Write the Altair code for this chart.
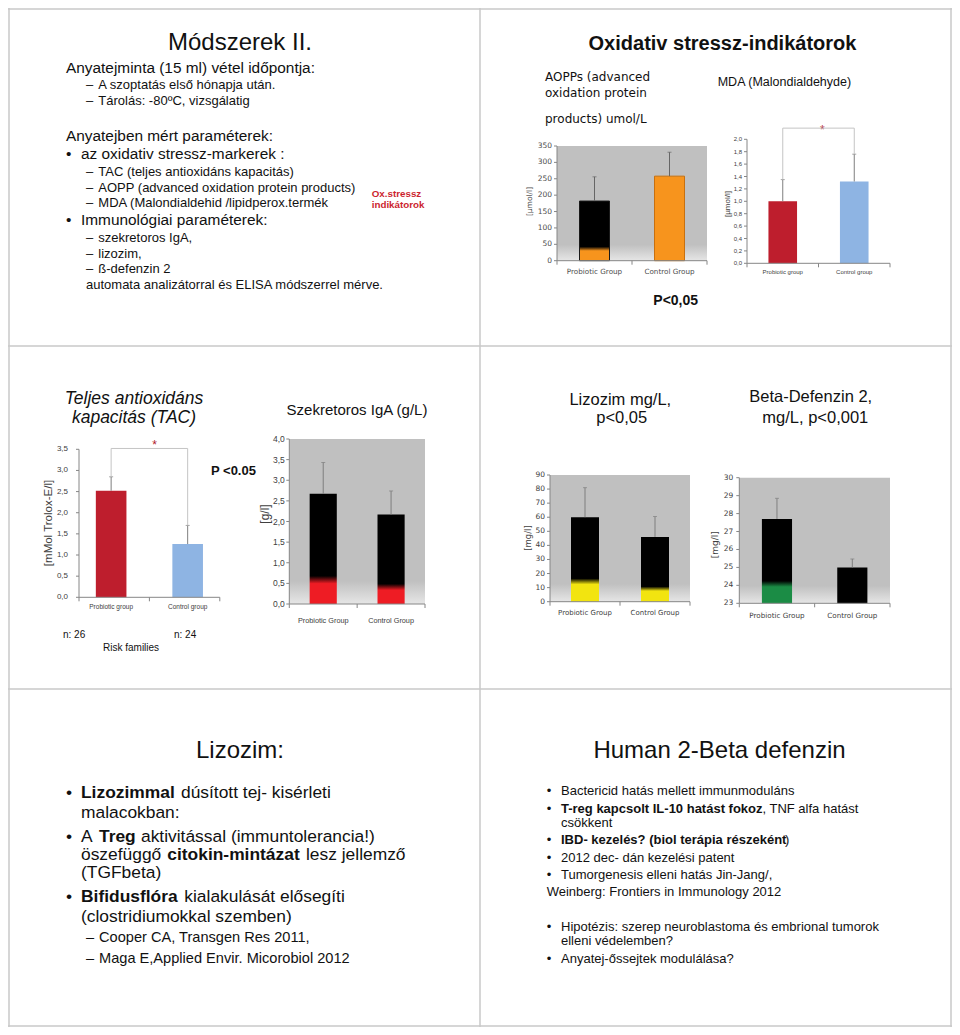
import altair as alt
import pandas as pd

W, H = 944, 1019
OX, OY = 8, 8


def X(p):
    return p - OX


def Y(p):
    return p - OY


ARIAL = "Liberation Sans, Arial, sans-serif"
VERDANA = "DejaVu Sans, Verdana, sans-serif"

# ---------------- data ----------------
GROUPS_CAP = ["Probiotic Group", "Control Group"]
GROUPS_LOW = ["Probiotic group", "Control group"]

AOPP_MEAN = [182, 258]
AOPP_SD = [74, 73]
AOPP_TICKS = [0, 50, 100, 150, 200, 250, 300, 350]

MDA_MEAN = [1.00, 1.32]
MDA_SD = [0.35, 0.44]
MDA_TICKS = [0.0, 0.2, 0.4, 0.6, 0.8, 1.0, 1.2, 1.4, 1.6, 1.8, 2.0]
MDA_BRACKET = 2.18

TAC_MEAN = [2.52, 1.26]
TAC_SD = [0.33, 0.44]
TAC_TICKS = [0.0, 0.5, 1.0, 1.5, 2.0, 2.5, 3.0, 3.5]
TAC_BRACKET = 3.52

IGA_MEAN = [2.67, 2.17]
IGA_SD = [0.76, 0.57]
IGA_TICKS = [0.0, 0.5, 1.0, 1.5, 2.0, 2.5, 3.0, 3.5, 4.0]

LIZ_MEAN = [60, 46]
LIZ_SD = [21, 14.5]
LIZ_TICKS = [0, 10, 20, 30, 40, 50, 60, 70, 80, 90]

DEF_MEAN = [27.7, 25.0]
DEF_SD = [1.15, 0.47]
DEF_TICKS = [23, 24, 25, 26, 27, 28, 29, 30]

ONE = pd.DataFrame({"k": [0]})


def tick_labels(ticks, comma):
    if comma:
        return [f"{t:.1f}".replace(".", ",") for t in ticks]
    return [str(int(t)) for t in ticks]


def grad(top, bottom, frac, w=0.035):
    return alt.Gradient(
        gradient="linear", x1=0, x2=0, y1=0, y2=1,
        stops=[alt.GradientStop(color=top, offset=0),
               alt.GradientStop(color=top, offset=max(frac - w, 0)),
               alt.GradientStop(color=bottom, offset=min(frac + w, 1)),
               alt.GradientStop(color=bottom, offset=1)])


BG_GRAD = grad("#c0c0c0", "#e6e6e6", 0.93, 0.07)


def bar_panel(groups, mean, sd, ticks, x0, x1, y0, y1, fills, strokes, *,
              po=0.3, bg=False, lab_font=ARIAL, lab_size=7, xlab_size=7,
              lab_color="#404040", comma=False, lab_gap=5, xlab_y=0,
              ytitle="", ytitle_font=ARIAL, ytitle_size=8, ytitle_x=0, ytitle_y=0,
              err_color="#7f7f7f", bracket=None, axis_color="#868686"):
    df = pd.DataFrame({"g": groups, "m": mean, "s": sd})
    tdf = pd.DataFrame({"v": ticks, "lab": tick_labels(ticks, comma)})
    lo, hi = ticks[0], ticks[-1]
    xs = alt.Scale(domain=groups, range=[X(x0), X(x1)], paddingInner=0.6, paddingOuter=po)
    ys = alt.Scale(domain=[lo, hi], range=[Y(y0), Y(y1)], nice=False, zero=False)
    gx = alt.X("g:N", scale=xs, axis=None)
    layers = []
    if bg:
        layers.append(alt.Chart(ONE).mark_rect(fill=BG_GRAD).encode(
            x=alt.value(X(x0)), x2=alt.value(X(x1)), y=alt.value(Y(y1)), y2=alt.value(Y(y0))))
    for i, g in enumerate(groups):
        layers.append(
            alt.Chart(df).transform_filter(alt.datum.g == g)
            .transform_calculate(base=f"{lo}")
            .mark_bar(fill=fills[i], stroke=strokes[i], strokeWidth=1 if strokes[i] else 0)
            .encode(x=gx, y=alt.Y("m:Q", scale=ys, axis=None), y2="base:Q"))
    layers.append(
        alt.Chart(df).transform_calculate(top="datum.m + datum.s")
        .mark_rule(color=err_color, strokeWidth=1)
        .encode(x=gx, y=alt.Y("m:Q", scale=ys, axis=None), y2="top:Q"))
    layers.append(
        alt.Chart(df).transform_calculate(top="datum.m + datum.s")
        .mark_tick(color=err_color, size=4, thickness=1)
        .encode(x=gx, y=alt.Y("top:Q", scale=ys, axis=None)))
    if bracket is not None:
        bdf = pd.DataFrame({
            "g": [groups[0], groups[0], groups[1], groups[1]],
            "v": [mean[0] + sd[0], bracket, bracket, mean[1] + sd[1]],
            "o": [0, 1, 2, 3]})
        layers.append(
            alt.Chart(bdf).mark_line(color="#c4c4c4", strokeWidth=1)
            .encode(x=alt.X("g:N", scale=xs, axis=None),
                    y=alt.Y("v:Q", scale=ys, axis=None), order="o:Q"))
    # ---- value axis (y) ----
    layers.append(alt.Chart(ONE).mark_rule(color=axis_color, strokeWidth=1).encode(
        x=alt.value(X(x0)), y=alt.value(Y(y1)), y2=alt.value(Y(y0))))
    layers.append(alt.Chart(tdf).mark_rule(color=axis_color, strokeWidth=1).encode(
        y=alt.Y("v:Q", scale=ys, axis=None), x=alt.value(X(x0) - 3), x2=alt.value(X(x0))))
    layers.append(alt.Chart(tdf).mark_text(
        align="right", baseline="middle", font=lab_font, fontSize=lab_size, color=lab_color
    ).encode(y=alt.Y("v:Q", scale=ys, axis=None), x=alt.value(X(x0) - lab_gap), text="lab:N"))
    layers.append(alt.Chart(ONE).mark_text(
        text=ytitle, angle=270, align="center", baseline="middle", font=ytitle_font,
        fontSize=ytitle_size, color=lab_color
    ).encode(x=alt.value(X(ytitle_x)), y=alt.value(Y(ytitle_y))))
    # ---- category axis (x) ----
    layers.append(alt.Chart(ONE).mark_rule(color=axis_color, strokeWidth=1).encode(
        x=alt.value(X(x0)), x2=alt.value(X(x1)), y=alt.value(Y(y0))))
    for tx in (x0, (x0 + x1) / 2, x1):
        layers.append(alt.Chart(ONE).mark_rule(color=axis_color, strokeWidth=1).encode(
            x=alt.value(X(tx)), y=alt.value(Y(y0)), y2=alt.value(Y(y0) + 4)))
    layers.append(alt.Chart(df).mark_text(
        align="center", baseline="middle", font=lab_font, fontSize=xlab_size, color=lab_color
    ).encode(x=gx, y=alt.value(Y(xlab_y)), text="g:N"))
    return alt.layer(*layers)


def texts(items, size, font=ARIAL, weight="normal", style="normal", color="#111111",
          align="left", baseline="alphabetic"):
    df = pd.DataFrame({"x": [X(i[0]) for i in items], "y": [Y(i[1]) for i in items],
                       "t": [i[2] for i in items]})
    return alt.Chart(df).mark_text(
        font=font, fontSize=size, fontWeight=weight, fontStyle=style, color=color,
        align=align, baseline=baseline).encode(
        x=alt.X("x:Q", scale=None, axis=None), y=alt.Y("y:Q", scale=None, axis=None),
        text="t:N")


# ---------------- slide frames ----------------
frame_df = pd.DataFrame({
    "x": [X(480), 1, W - 1, 0, 0, 0, 0],
    "x2": [X(480), 1, W - 1, W, W, W, W],
    "y": [0, 0, 0, Y(346), Y(689), 1, H - 1],
    "y2": [H, H, H, Y(346), Y(689), 1, H - 1]})
frame = alt.Chart(frame_df).mark_rule(color="#c8c8c8", strokeWidth=1.5).encode(
    x=alt.X("x:Q", scale=None, axis=None), x2="x2:Q",
    y=alt.Y("y:Q", scale=None, axis=None), y2="y2:Q")

# ---------------- slide 1 ----------------
s1 = [
    texts([(240, 50, "Módszerek II.")], 24, align="center"),
    texts([(66, 72.7, "Anyatejminta (15 ml) vétel időpontja:"),
           (66, 140.7, "Anyatejben mért paraméterek:"),
           (66, 159, "•"), (81, 159, "az oxidativ stressz-markerek :"),
           (66, 225, "•"), (81, 225, "Immunológiai paraméterek:")], 15.4),
    texts([(86, 89, "–"), (98.3, 89, "A szoptatás első hónapja után."),
           (86, 105, "–"), (98.3, 105, "Tárolás: -80ºC, vizsgálatig"),
           (86, 176, "–"), (98.3, 176, "TAC (teljes antioxidáns kapacitás)"),
           (86, 191.7, "–"), (98.3, 191.7, "AOPP (advanced oxidation protein products)"),
           (86, 207.3, "–"), (98.3, 207.3, "MDA (Malondialdehid /lipidperox.termék"),
           (86, 241.7, "–"), (98.3, 241.7, "szekretoros IgA,"),
           (86, 257.7, "–"), (98.3, 257.7, "lizozim,"),
           (86, 273.3, "–"), (98.3, 273.3, "ß-defenzin 2"),
           (86, 289, "automata analizátorral és ELISA módszerrel mérve.")], 13),
    texts([(371.7, 196.5, "Ox.stressz"), (371.7, 208, "indikátorok")], 9.8,
          weight="bold", color="#cc1f2f"),
]

# ---------------- slide 2 ----------------
s2 = [
    texts([(722.5, 50, "Oxidativ stressz-indikátorok")], 20, weight="bold", align="center"),
    texts([(545, 81, "AOPPs (advanced"), (545, 96.5, "oxidation protein"),
           (545, 122.7, "products) umol/L")], 12, font=VERDANA),
    texts([(717.7, 86, "MDA  (Malondialdehyde)")], 12.5),
    texts([(675.7, 305, "P<0,05")], 14, weight="bold", align="center"),
    texts([(820, 133.6, "*")], 12, color="#b0202a"),
]

aopp = bar_panel(GROUPS_CAP, AOPP_MEAN, AOPP_SD, AOPP_TICKS, 557, 707, 260.7, 146,
                 [grad("#000000", "#f7941d", 0.80), "#f7941d"], ["#1a1a1a", "#c8700f"],
                 bg=True, lab_font=VERDANA, lab_size=7.5, xlab_size=7.2, lab_color="#4d4d4d",
                 lab_gap=5, xlab_y=272, ytitle="[µmol/l]", ytitle_font=VERDANA,
                 ytitle_size=7.5, ytitle_x=530, ytitle_y=201.5, err_color="#666666")

mda = bar_panel(GROUPS_LOW, MDA_MEAN, MDA_SD, MDA_TICKS, 747, 890, 263.3, 139.3,
                ["#be1e2d", "#8eb4e3"], [None, None], lab_font=ARIAL, lab_size=6,
                xlab_size=6, comma=True, lab_gap=5, xlab_y=272, ytitle="[µmol/l]",
                ytitle_size=8, ytitle_x=727.7, ytitle_y=204, bracket=MDA_BRACKET)

# ---------------- slide 3 ----------------
s3 = [
    texts([(134, 403.8, "Teljes antioxidáns"), (134, 422.8, "kapacitás (TAC)")], 17.5,
          style="italic", align="center"),
    texts([(357, 415, "Szekretoros IgA (g/L)")], 15, align="center"),
    texts([(211, 475, "P <0.05")], 13, weight="bold"),
    texts([(63, 638.3, "n: 26"), (174, 638.3, "n: 24"), (103, 651, "Risk families")], 10),
    texts([(152.3, 448.6, "*")], 12, color="#b0202a"),
]

tac = bar_panel(GROUPS_LOW, TAC_MEAN, TAC_SD, TAC_TICKS, 79, 219.8, 597.3, 449.3,
                ["#be1e2d", "#8eb4e3"], [None, None], po=0.22, lab_font=ARIAL, lab_size=8,
                xlab_size=6.5, comma=True, lab_gap=11, xlab_y=606.7,
                ytitle="[mMol Trolox-E/l]", ytitle_size=11.5, ytitle_x=49, ytitle_y=523,
                bracket=TAC_BRACKET)

iga = bar_panel(GROUPS_CAP, IGA_MEAN, IGA_SD, IGA_TICKS, 289.3, 425, 604, 439,
                [grad("#000000", "#ee1c24", 0.78), grad("#000000", "#ee1c24", 0.81)],
                [None, None], bg=True, lab_font=ARIAL, lab_size=8.5, xlab_size=7.3,
                comma=True, lab_gap=4.5, xlab_y=621, ytitle="[g/l]", ytitle_font=ARIAL,
                ytitle_size=12, ytitle_x=265, ytitle_y=514)

# ---------------- slide 4 ----------------
s4 = [
    texts([(620.3, 405, "Lizozim mg/L,"), (621.7, 423.3, "p<0,05"),
           (810.7, 402.3, "Beta-Defenzin 2,"), (815.3, 423.3, "mg/L, p<0,001")], 16.5,
          align="center"),
]

liz = bar_panel(GROUPS_CAP, LIZ_MEAN, LIZ_SD, LIZ_TICKS, 550, 690, 601.7, 475,
                [grad("#000000", "#f2e410", 0.76), grad("#000000", "#f2e410", 0.80)],
                [None, None], bg=True, lab_font=VERDANA, lab_size=7.5, xlab_size=7,
                lab_gap=5, xlab_y=613.3, ytitle="[mg/l]", ytitle_font=VERDANA,
                ytitle_size=8.5, ytitle_x=528.3, ytitle_y=538)

dfz = bar_panel(GROUPS_CAP, DEF_MEAN, DEF_SD, DEF_TICKS, 739.3, 890, 603.3, 477.7,
                [grad("#000000", "#1b8c45", 0.77), "#000000"], [None, None], bg=True,
                lab_font=VERDANA, lab_size=7.5, xlab_size=7.2, lab_gap=6, xlab_y=615.7,
                ytitle="[mg/l]", ytitle_font=VERDANA, ytitle_size=9, ytitle_x=715,
                ytitle_y=544.7)

# ---------------- slide 5 ----------------
s5 = [
    texts([(240, 758.3, "Lizozim:")], 24, align="center"),
    texts([(66, 798.3, "•"), (181, 798.3, "dúsított tej- kisérleti"),
           (81, 818.3, "malacokban:"),
           (66, 841.7, "•"), (81, 841.7, "A"), (141, 841.7, "aktivitással (immuntolerancia!)"),
           (81, 860, "öszefüggő"), (306, 860, "lesz jellemző"),
           (81, 878.3, "(TGFbeta)"),
           (66, 901.7, "•"), (184.3, 901.7, "kialakulását elősegíti"),
           (81, 921.7, "(clostridiumokkal szemben)")], 17.4),
    texts([(81, 798.3, "Lizozimmal"), (99, 841.7, "Treg"), (167.3, 860, "citokin-mintázat"),
           (81, 901.7, "Bifidusflóra")], 17.4, weight="bold"),
    texts([(86, 942.3, "–"), (99, 942.3, "Cooper CA, Transgen Res 2011,"),
           (86, 962.7, "–"), (99, 962.7, "Maga E,Applied Envir. Micorobiol 2012")], 14.6),
]

# ---------------- slide 6 ----------------
s6 = [
    texts([(719.5, 758.3, "Human 2-Beta defenzin")], 24, align="center"),
    texts([(546.7, 795, "•"), (561, 795, "Bactericid hatás mellett immunmoduláns"),
           (546.7, 812.7, "•"), (762.5, 812.7, ", TNF alfa hatást"),
           (561, 826.7, "csökkent"),
           (546.7, 844, "•"), (785, 844, ")"),
           (546.7, 861.7, "•"), (561, 861.7, "2012 dec- dán kezelési patent"),
           (546.7, 879, "•"), (561, 879, "Tumorgenesis elleni hatás Jin-Jang/,"),
           (546.7, 896, "Weinberg: Frontiers in Immunology 2012"),
           (546.7, 930.7, "•"), (561, 930.7, "Hipotézis: szerep neuroblastoma és embrional tumorok"),
           (561, 945, "elleni védelemben?"),
           (546.7, 962.7, "•"), (561, 962.7, "Anyatej-őssejtek modulálása?")], 13),
    texts([(561, 812.7, "T-reg kapcsolt IL-10 hatást fokoz"),
           (561, 844, "IBD- kezelés? (biol terápia részeként")], 13, weight="bold"),
]

chart = alt.layer(
    frame, *s1, *s2, *s3, *s4, *s5, *s6, aopp, mda, tac, iga, liz, dfz
).resolve_scale(
    x="independent", y="independent"
).properties(
    width=W, height=H, padding=0, autosize=alt.AutoSizeParams(type="none"),
    background="white"
).configure_view(strokeWidth=0)

chart.save("out.html", embed_options={"renderer": "svg", "actions": False})
